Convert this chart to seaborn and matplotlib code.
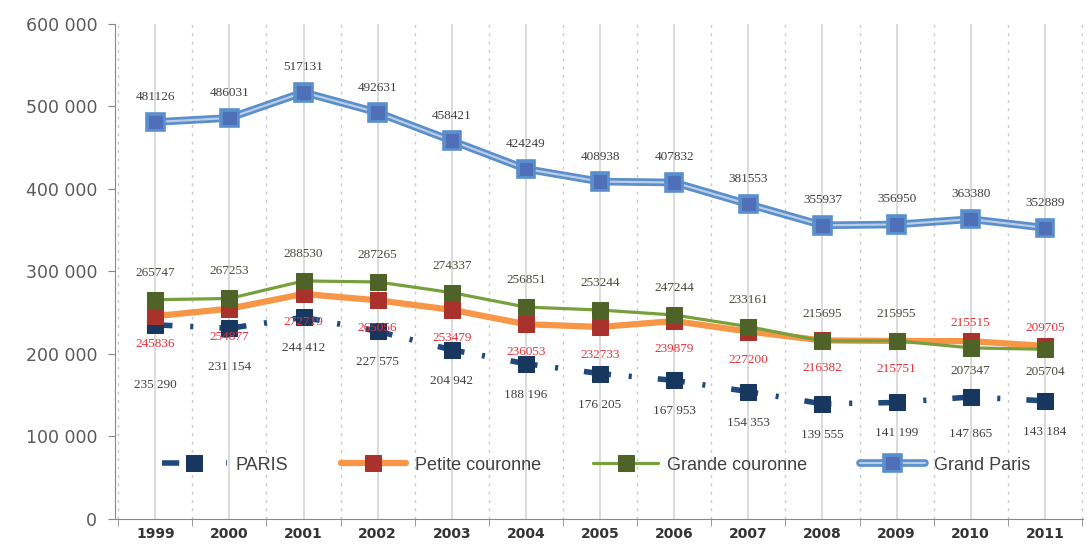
import matplotlib
matplotlib.use('Agg')
import matplotlib.pyplot as plt
import matplotlib.patheffects as pe
from matplotlib.ticker import FuncFormatter, MultipleLocator
import numpy as np
import pandas as pd
import seaborn as sns

# Donnees
years = [1999, 2000, 2001, 2002, 2003, 2004, 2005, 2006, 2007, 2008, 2009, 2010, 2011]
paris = [235290, 231154, 244412, 227575, 204942, 188196, 176205, 167953, 154353, 139555, 141199, 147865, 143184]
petite_couronne = [245836, 254877, 272719, 265056, 253479, 236053, 232733, 239879, 227200, 216382, 215751, 215515, 209705]
grande_couronne = [265747, 267253, 288530, 287265, 274337, 256851, 253244, 247244, 233161, 215695, 215955, 207347, 205704]
grand_paris = [481126, 486031, 517131, 492631, 458421, 424249, 408938, 407832, 381553, 355937, 356950, 363380, 352889]

df = pd.DataFrame({'annee': years, 'PARIS': paris, 'Petite couronne': petite_couronne,
                   'Grande couronne': grande_couronne, 'Grand Paris': grand_paris})

sns.set_style('white')
plt.rcParams['font.family'] = ['DejaVu Sans']

fig = plt.figure(figsize=(10.87, 5.44), dpi=100)
ax = fig.add_axes([0.106, 0.046, 0.890, 0.910])

# PARIS : tirets-points bleu fonce
sns.lineplot(data=df, x='annee', y='PARIS', ax=ax, color='#1F497D', lw=4,
             linestyle=(1.8, (4.9, 3.2, 0.55, 4.7)), marker='s', markersize=11,
             markerfacecolor='#17375E', markeredgecolor='#17375E', label='PARIS')
# Petite couronne : orange, carres rouge fonce
sns.lineplot(data=df, x='annee', y='Petite couronne', ax=ax, color='#F79646', lw=4.5,
             marker='s', markersize=11, markerfacecolor='#A9332C', markeredgecolor='#A9332C',
             label='Petite couronne')
# Grande couronne : vert
sns.lineplot(data=df, x='annee', y='Grande couronne', ax=ax, color='#77A03C', lw=2.3,
             marker='s', markersize=11, markerfacecolor='#4F6228', markeredgecolor='#4F6228',
             label='Grande couronne')
# Grand Paris : double trait bleu
sns.lineplot(data=df, x='annee', y='Grand Paris', ax=ax, color='#B9CDE5', lw=1.6,
             marker='s', markersize=9, markerfacecolor='#4F6FB8', markeredgecolor='#4F6FB8',
             label='Grand Paris',
             path_effects=[pe.Stroke(linewidth=5.5, foreground='#5B8FCB'), pe.Normal()])

# etiquettes de valeurs (decalages en pixels)
lab_font = dict(family='Liberation Serif', fontsize=9.5, ha='center', va='center')
px = 0.72
for i, yr in enumerate(years):
    ax.annotate(f'{grand_paris[i]}', (yr, grand_paris[i]), xytext=(0, 25 * px),
                textcoords='offset points', color='#404040', **lab_font)
    g_off = -23 if yr >= 2010 else 27
    ax.annotate(f'{grande_couronne[i]}', (yr, grande_couronne[i]), xytext=(0, g_off * px),
                textcoords='offset points', color='#4A4A3A', **lab_font)
    p_off = 18 if yr >= 2010 else -28
    ax.annotate(f'{petite_couronne[i]}', (yr, petite_couronne[i]), xytext=(0, p_off * px),
                textcoords='offset points', color='#E8323C', **lab_font)
    pa_off = {1999: -60, 2000: -39, 2010: -37}.get(yr, -31)
    ax.annotate(f'{paris[i]:,}'.replace(',', ' '), (yr, paris[i]), xytext=(0, pa_off * px),
                textcoords='offset points', color='#404040', **lab_font)

# axes
ax.set_xlim(1998.46, 2011.51)
ax.set_ylim(0, 600000)
ax.set_xticks(years)
ax.set_xticklabels([str(y) for y in years], fontweight='bold', fontsize=10, color='#333333')
ax.xaxis.set_minor_locator(MultipleLocator(1, offset=0.5))
ax.yaxis.set_major_locator(MultipleLocator(100000))
ax.yaxis.set_major_formatter(FuncFormatter(lambda v, p: f'{int(v):,}'.replace(',', ' ')))
ax.tick_params(axis='y', labelsize=12.5, labelcolor='#5A5A5A', length=5, color='#888888',
               left=True, pad=8)
ax.tick_params(axis='x', which='major', length=0, pad=6)
ax.tick_params(axis='x', which='minor', length=5, color='#888888', bottom=True)
ax.set_xlabel('')
ax.set_ylabel('')

ax.grid(False)
ax.grid(axis='x', which='major', color='#D4D4D4', lw=1.2, ls='-')
ax.grid(axis='x', which='minor', color='#C8C8C8', lw=1, ls=(0, (2, 4)))
ax.set_axisbelow(True)
for s in ['top', 'right']:
    ax.spines[s].set_visible(False)
ax.spines['left'].set_color('#888888')
ax.spines['bottom'].set_color('#888888')

ax.legend(loc='center', bbox_to_anchor=(0.497, 0.109), ncol=4, frameon=False,
          handlelength=3.6, columnspacing=2.9, handletextpad=0.5,
          labelcolor='#404040', prop={'family': 'Liberation Sans', 'size': 13})

fig.savefig('out.png', dpi=100)
